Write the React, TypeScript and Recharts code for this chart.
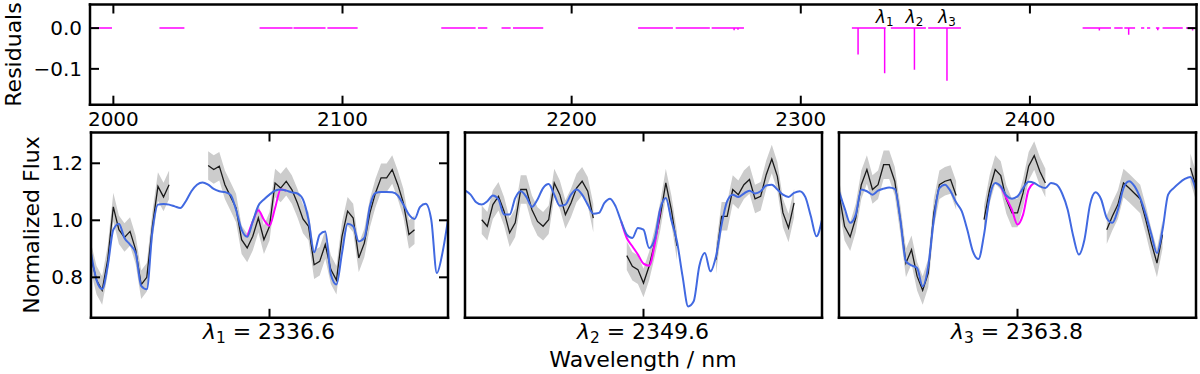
import React from 'react';
import { ComposedChart, LineChart, Line, Area, XAxis, YAxis, ReferenceDot } from 'recharts';

const FONT = '"DejaVu Sans", sans-serif';
const _ = null;

// centres of the three perturbed lines, nm
const LINES = [2336.6, 2349.6, 2363.8];
const WINDOW = 8; // half width of a zoom panel, nm
const STEP = 0.25; // sampling of the panel arrays, nm
const FLUX_ERR = 0.05;

const RES_TICKS_X = [2000, 2100, 2200, 2300, 2400];
const RES_TICKS_Y = [-0.1, 0];
const FLUX_TICKS = [0.8, 1.0, 1.2];

// residual panel: covered ranges and the dips inside them
const resSegments = [
  [1990.4, 1999.4], [2020.1, 2031.0], [2063.8, 2078.2], [2078.6, 2092.6], [2093.4, 2106.6],
  [2143.1, 2158.1], [2159.1, 2163.2], [2169.4, 2173.4], [2174.4, 2187.6],
  [2229.0, 2244.2], [2245.4, 2260.3], [2261.1, 2275.2],
  [2322.3, 2337.1], [2339.3, 2354.6], [2355.6, 2369.9],
  [2423.0, 2435.4], [2436.8, 2440.5], [2441.2, 2445.9], [2448.5, 2449.9], [2451.1, 2452.5],
  [2455.0, 2456.5], [2457.9, 2466.7], [2468.1, 2471.7],
];
const resSpikes = [
  [2270.9, -0.005], [2272.6, -0.004], [2325.0, -0.065], [2336.6, -0.111], [2349.6, -0.102],
  [2363.8, -0.129], [2430.3, -0.006], [2443.1, -0.016], [2455.8, -0.005], [2471.0, -0.006],
];

// panel 1 (lambda1)
const model1 = [
  0.885, 0.79, 0.759, 0.84, 0.967, 0.988, 0.938, 0.915, 0.885, 0.77,
  0.758, 0.96, 1.055, 1.057, 1.055, 1.049, 1.043, 1.067, 1.102, 1.125,
  1.133, 1.125, 1.11, 1.102, 1.099, 1.09, 1.037, 0.967, 0.942, 0.996,
  1.051, 1.073, 1.09, 1.104, 1.108, 1.104, 1.098, 1.094, 1.073, 1.002,
  0.888, 0.95, 0.961, 0.81, 0.775, 0.885, 0.988, 0.979, 0.926, 0.938,
  1.049, 1.096, 1.099, 1.099, 1.098, 1.087, 1.055, 1.02, 1.005, 1.047,
  1.058, 1.002, 0.815, 0.885, 1.002,
];
const pert1 = [
  _, _, _, _, _, _, _, _, _, _,
  _, _, _, _, _, _, _, _, _, _,
  _, _, _, _, _, _, _, _, 0.942, 0.996,
  1.035, 1.002, 0.981, 1.043, 1.108, 1.104, _, _, _, _,
  _, _, _, _, _, _, _, _, _, _,
  _, _, _, _, _, _, _, _, _, _,
  _, _, _, _, _,
];
const obs1 = [
  0.87, 0.79, 0.754, 0.862, 1.047, 0.967, 0.94, 0.961, 0.897, 0.774,
  0.8, 0.979, 1.119, 1.082, 1.125, _, _, _, _, _,
  _, 1.192, 1.178, 1.19, 1.125, 1.084, 1.043, 0.932, 0.903, 0.944,
  1.008, 0.932, 0.979, 1.131, 1.113, 1.137, 1.108, 1.061, 1.005, 0.979,
  0.844, 0.856, 0.915, 0.827, 0.79, 0.944, 1.032, 1.008, 0.868, 0.92,
  1.026, 1.096, 1.149, 1.149, 1.178, 1.125, 1.061, 0.95, 0.967, _,
  _, _, _, _, _,
];

// panel 2 (lambda2)
const model2 = [
  1.105, 1.09, 1.063, 1.055, 1.067, 1.087, 1.073, 1.02, 1.02, 1.078,
  1.102, 1.082, 1.047, 1.073, 1.113, 1.127, 1.09, 1.051, 1.055, 1.09,
  1.108, 1.09, 1.055, 1.023, 1.026, 1.061, 1.076, 1.049, 0.996, 0.95,
  0.938, 0.973, 0.967, 0.903, 0.935, 1.04, 1.078, 1.0, 0.926, 0.804,
  0.698, 0.716, 0.839, 0.885, 0.821, 0.874, 0.985, 1.067, 1.09, 1.082,
  1.094, 1.104, 1.094, 1.102, 1.122, 1.125, 1.108, 1.09, 1.082, 1.096,
  1.102, 1.082, 1.014, 0.944, 1.002,
];
const pert2 = [
  _, _, _, _, _, _, _, _, _, _,
  _, _, _, _, _, _, _, _, _, _,
  _, _, _, _, _, _, _, _, 0.996, 0.938,
  0.909, 0.88, 0.848, 0.841, 0.915, 1.04, _, _, _, _,
  _, _, _, _, _, _, _, _, _, _,
  _, _, _, _, _, _, _, _, _, _,
  _, _, _, _, _,
];
const obs2 = [
  _, _, _, 1.002, 0.979, 1.055, 1.084, 1.032, 0.956, 0.991,
  1.108, 1.108, 1.037, 0.996, 0.979, 1.002, 1.131, 1.09, 1.02, 1.061,
  1.113, 1.137, 1.102, 1.008, _, _, _, _, _, 0.876,
  0.839, 0.827, 0.78, 0.839, 0.92, 1.014, 1.131, 1.037, 0.91, _,
  _, _, _, _, _, 0.862, 1.014, 1.014, 1.108, 1.09,
  1.125, 1.143, 1.075, 1.084, 1.16, 1.215, 1.154, 1.026, 0.973, 1.061,
  _, _, _, _, _,
];

// panel 3 (lambda3)
const model3 = [
  1.102, 1.043, 0.991, 1.02, 1.108, 1.102, 1.09, 1.104, 1.111, 1.115,
  1.11, 1.002, 0.856, 0.842, 0.833, 0.768, 0.839, 1.002, 1.113, 1.125,
  1.102, 1.063, 1.032, 0.967, 0.891, 0.864, 0.95, 1.082, 1.131, 1.119,
  1.087, 1.076, 1.084, 1.113, 1.135, 1.131, 1.119, 1.113, 1.131, 1.125,
  1.094, 1.037, 0.944, 0.88, 0.932, 1.055, 1.098, 1.073, 1.008, 0.991,
  1.037, 1.113, 1.137, 1.119, 1.078, 1.02, 0.95, 0.885, 0.967, 1.09,
  1.113, 1.131, 1.145, 1.152, 1.105,
];
const pert3 = [
  _, _, _, _, _, _, _, _, _, _,
  _, _, _, _, _, _, _, _, _, _,
  _, _, _, _, _, _, _, _, _, 1.119,
  1.078, 1.037, 0.985, 1.02, 1.108, 1.131, _, _, _, _,
  _, _, _, _, _, _, _, _, _, _,
  _, _, _, _, _, _, _, _, _, _,
  _, _, _, _, _,
];
const obs3 = [
  1.095, 0.979, 0.942, 1.008, 1.125, 1.178, 1.108, 1.125, 1.195, 1.195,
  1.137, 1.002, 0.85, 0.897, 0.804, 0.754, 0.815, 1.026, 1.125, 1.137,
  1.143, 1.087, _, _, _, _, 1.002, 1.108, 1.178, 1.157,
  1.073, 1.026, 1.026, 1.096, 1.19, 1.227, 1.172, 1.131, _, _,
  _, _, _, _, _, _, _, _, 0.967, 1.014,
  1.055, 1.131, 1.113, 1.094, 1.075, 1.002, 0.92, 0.85, 0.95, _,
  _, _, _, 1.184, 1.119,
];

const PANELS = [
  { lam: LINES[0], model: model1, pert: pert1, obs: obs1 },
  { lam: LINES[1], model: model2, pert: pert2, obs: obs2 },
  { lam: LINES[2], model: model3, pert: pert3, obs: obs3 },
];

const RES_DOMAIN_X = [1989.8, 2472.7];
const RES_DOMAIN_Y = [-0.188, 0.058];
const FLUX_DOMAIN = [0.658, 1.308];

const PANEL_LEFT = [90.5, 464.5, 838.5];
const PANEL_W = 357;

const AXIS_LINE = { stroke: '#000', strokeWidth: 2.5, strokeLinecap: 'square' };
const TICK_LINE = { stroke: '#000', strokeWidth: 2 };
const TICK_TEXT = { fontSize: 20, fill: '#000', fontFamily: FONT };
const blank = () => '';

const buildResiduals = () => {
  const rows: { w: number; r: number | null }[] = [];
  resSegments.forEach(([a, b]) => {
    rows.push({ w: a, r: 0 });
    resSpikes
      .filter(([s]) => s > a && s < b)
      .forEach(([s, d]) => {
        rows.push({ w: s, r: 0 }, { w: s, r: d }, { w: s, r: 0 });
      });
    rows.push({ w: b, r: 0 });
    rows.push({ w: b, r: null });
  });
  return rows;
};

const buildPanel = (lam: number, model: number[], pert: (number | null)[], obs: (number | null)[]) =>
  model.map((m, i) => {
    const o = obs[i];
    return {
      w: lam - WINDOW + i * STEP,
      model: m,
      pert: pert[i],
      obs: o,
      band: o == null ? null : [o - FLUX_ERR, o + FLUX_ERR],
    };
  });

const fmtRes = (v: number) => (v === 0 ? '0.0' : '\u2212' + Math.abs(v).toFixed(1));

const LamLabel = ({ x, y, n, size, value }: any) => (
  <text x={x} y={y} textAnchor="middle" fontFamily={FONT} fontSize={size} fill="#000">
    <tspan fontStyle="italic">λ</tspan>
    <tspan fontSize={size * 0.7} dy={size * 0.18}>{n}</tspan>
    {value != null && <tspan dy={-size * 0.18}>{' = ' + value}</tspan>}
  </text>
);

const ResidualChart = () => {
  const data = buildResiduals();
  return (
    <div style={{ position: 'absolute', left: 0, top: 0 }}>
      <LineChart width={1200} height={135} data={data} margin={{ top: 3.5, right: 2.5, left: 0, bottom: 0 }}>
        <XAxis xAxisId="b" dataKey="w" type="number" domain={RES_DOMAIN_X} allowDataOverflow ticks={RES_TICKS_X}
          height={30.3} tickSize={-9} tickMargin={16} axisLine={AXIS_LINE} tickLine={TICK_LINE} tick={TICK_TEXT} />
        <XAxis xAxisId="t" dataKey="w" orientation="top" type="number" domain={RES_DOMAIN_X} allowDataOverflow
          ticks={RES_TICKS_X} height={1} tickSize={-9} tickFormatter={blank} axisLine={AXIS_LINE} tickLine={TICK_LINE} />
        <YAxis yAxisId="l" type="number" domain={RES_DOMAIN_Y} allowDataOverflow ticks={RES_TICKS_Y} width={90}
          tickSize={-9} tickMargin={17} tickFormatter={fmtRes} axisLine={AXIS_LINE} tickLine={TICK_LINE} tick={TICK_TEXT} />
        <YAxis yAxisId="r" orientation="right" type="number" domain={RES_DOMAIN_Y} allowDataOverflow ticks={RES_TICKS_Y}
          width={1} tickSize={-9} tickFormatter={blank} axisLine={AXIS_LINE} tickLine={TICK_LINE} />
        {/* invisible copy so the top and right axes are drawn */}
        <Line xAxisId="t" yAxisId="r" type="linear" dataKey="r" stroke="none" dot={false} legendType="none"
          isAnimationActive={false} />
        <Line xAxisId="b" yAxisId="l" type="linear" dataKey="r" stroke="#ff00ff" strokeWidth={1.5}
          dot={false} connectNulls={false} isAnimationActive={false} />
        {LINES.map((l, i) => (
          <ReferenceDot key={l} xAxisId="b" yAxisId="l" x={l} y={0.013} r={0} ifOverflow="visible"
            shape={(p: any) => <LamLabel x={p.cx} y={p.cy} n={i + 1} size={17} />} />
        ))}
      </LineChart>
    </div>
  );
};

const FluxPanel = ({ idx }: { idx: number }) => {
  const { lam, model, pert, obs } = PANELS[idx];
  const data = buildPanel(lam, model, pert, obs);
  const showY = idx === 0;
  const dom = [lam - WINDOW, lam + WINDOW];
  return (
    <div style={{ position: 'absolute', left: PANEL_LEFT[idx] - 90, top: 120 }}>
      <ComposedChart width={90 + PANEL_W + 10} height={254} data={data} margin={{ top: 11.5, right: 9, left: 0, bottom: 0 }}>
        <XAxis xAxisId="b" dataKey="w" type="number" domain={dom} allowDataOverflow ticks={[lam]} height={56.2}
          tickSize={-9} tickFormatter={blank} axisLine={AXIS_LINE} tickLine={TICK_LINE} />
        <XAxis xAxisId="t" dataKey="w" orientation="top" type="number" domain={dom} allowDataOverflow ticks={[lam]}
          height={1} tickSize={-9} tickFormatter={blank} axisLine={AXIS_LINE} tickLine={TICK_LINE} />
        <YAxis yAxisId="l" type="number" domain={FLUX_DOMAIN} allowDataOverflow ticks={FLUX_TICKS} width={90}
          tickSize={-9} tickMargin={17} tickFormatter={(v: number) => v.toFixed(1)} axisLine={AXIS_LINE}
          tickLine={showY ? TICK_LINE : false} tick={showY ? TICK_TEXT : false} />
        <YAxis yAxisId="r" orientation="right" type="number" domain={FLUX_DOMAIN} allowDataOverflow ticks={FLUX_TICKS}
          width={1} tickSize={-9} tickFormatter={blank} axisLine={AXIS_LINE} tickLine={showY ? TICK_LINE : false}
          tick={showY ? TICK_TEXT : false} />
        <Line xAxisId="t" yAxisId="r" type="linear" dataKey="model" stroke="none" dot={false} legendType="none"
          isAnimationActive={false} />
        <Area xAxisId="b" yAxisId="l" type="linear" dataKey="band" fill="#cccccc" fillOpacity={1} stroke="none"
          connectNulls={false} isAnimationActive={false} />
        <Line xAxisId="b" yAxisId="l" type="linear" dataKey="obs" stroke="#1a1a1a" strokeWidth={1.3}
          dot={false} connectNulls={false} isAnimationActive={false} />
        <Line xAxisId="b" yAxisId="l" type="monotone" dataKey="pert" stroke="#ff00ff" strokeWidth={2}
          dot={false} connectNulls={false} isAnimationActive={false} />
        <Line xAxisId="b" yAxisId="l" type="monotone" dataKey="model" stroke="#4169e1" strokeWidth={2}
          dot={false} isAnimationActive={false} />
      </ComposedChart>
    </div>
  );
};

export default function App() {
  return (
    <div style={{ position: 'relative', width: 1200, height: 374, fontFamily: FONT, background: '#fff' }}>
      <style>{'body{margin:0}'}</style>
      <ResidualChart />
      {PANELS.map((_p, i) => (
        <FluxPanel key={i} idx={i} />
      ))}
      <svg width={1200} height={374} style={{ position: 'absolute', left: 0, top: 0, pointerEvents: 'none' }}>
        <text transform="translate(21,54.5) rotate(-90)" textAnchor="middle" fontFamily={FONT} fontSize={22} fill="#000">
          Residuals
        </text>
        <text transform="translate(39,225) rotate(-90)" textAnchor="middle" fontFamily={FONT} fontSize={22} fill="#000">
          Normalized Flux
        </text>
        {PANELS.map((p, i) => (
          <LamLabel key={i} x={PANEL_LEFT[i] + PANEL_W / 2} y={339} n={i + 1} size={22} value={p.lam.toFixed(1)} />
        ))}
        <text x={PANEL_LEFT[1] + PANEL_W / 2} y={367} textAnchor="middle" fontFamily={FONT} fontSize={22} fill="#000">
          Wavelength / nm
        </text>
      </svg>
    </div>
  );
}
